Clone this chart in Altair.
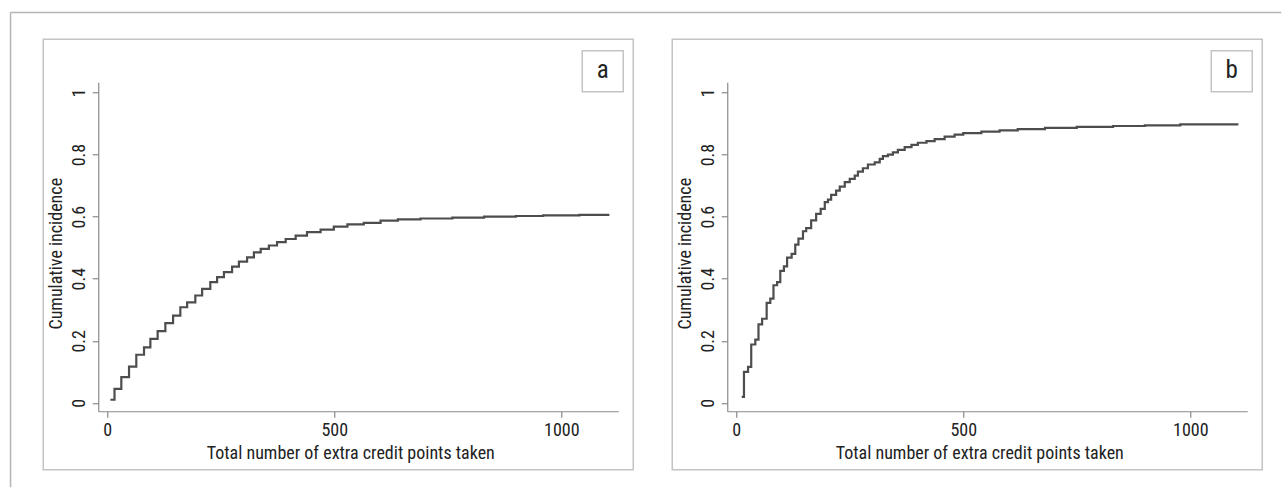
import altair as alt
import pandas as pd

# Panel a: cumulative incidence (step function)
a_x = [7, 16, 31, 48, 64, 81, 95, 111, 128, 145, 161, 176, 194, 209, 227, 242, 257, 275, 290, 308,
       323, 338, 356, 374, 393, 415, 440, 470, 499, 529, 565, 602, 640, 690, 760, 830, 900, 960, 1040, 1106]
a_y = [0.010, 0.045, 0.083, 0.117, 0.155, 0.179, 0.206, 0.231, 0.257, 0.281, 0.308, 0.324, 0.346, 0.367,
       0.389, 0.405, 0.421, 0.439, 0.455, 0.469, 0.485, 0.496, 0.507, 0.518, 0.528, 0.539, 0.550, 0.558,
       0.568, 0.575, 0.580, 0.587, 0.591, 0.594, 0.597, 0.600, 0.602, 0.604, 0.606, 0.606]

# Panel b
b_x = [12, 17, 26, 33, 42, 49, 57, 67, 75, 82, 90, 97, 105, 112, 122, 130, 137, 147, 154, 165,
       176, 186, 195, 202, 209, 220, 228, 239, 250, 261, 268, 279, 290, 305, 316, 323, 334, 345, 356, 371,
       386, 400, 419, 437, 459, 481, 500, 540, 580, 620, 680, 750, 830, 900, 978, 1106]
b_y = [0.019, 0.100, 0.116, 0.188, 0.204, 0.253, 0.271, 0.322, 0.336, 0.379, 0.389, 0.425, 0.440, 0.468,
       0.480, 0.510, 0.529, 0.553, 0.563, 0.588, 0.609, 0.625, 0.647, 0.655, 0.670, 0.684, 0.697, 0.711,
       0.722, 0.732, 0.745, 0.756, 0.768, 0.775, 0.786, 0.795, 0.800, 0.807, 0.815, 0.824, 0.831, 0.838,
       0.843, 0.850, 0.858, 0.864, 0.869, 0.874, 0.878, 0.882, 0.886, 0.889, 0.892, 0.894, 0.897, 0.897]

x_ticks = [0, 500, 1000]
y_ticks = [0, 0.2, 0.4, 0.6, 0.8, 1]
x_title = "Total number of extra credit points taken"
y_title = "Cumulative incidence"

FONT = ("'Liberation Sans Narrow', 'Roboto Condensed', 'Open Sans Condensed', 'Nimbus Sans Narrow', "
        "'Arial Narrow', 'DejaVu Sans Condensed', sans-serif")
W, H = 520, 329
BOX = "#c4c4c4"


def panel(xs, ys, letter, outer=False):
    df = pd.DataFrame({"x": xs, "y": ys})
    one = pd.DataFrame({"k": [0]})
    line = alt.Chart(df).mark_line(interpolate="step-after", color="#4d4d4d", strokeWidth=2.2).encode(
        x=alt.X("x:Q",
                scale=alt.Scale(domain=[-19.8, 1125.5], nice=False, zero=False),
                axis=alt.Axis(values=x_ticks, format="d", title=x_title,
                              labelPadding=4, titlePadding=5, titleX=252, titleAlign="center")),
        y=alt.Y("y:Q",
                scale=alt.Scale(domain=[-0.027, 1.033], nice=False, zero=False),
                axis=alt.Axis(values=y_ticks, format="~g", title=y_title, labelAngle=270,
                              labelPadding=4, titlePadding=5, titleY=171, titleAlign="center")),
    )
    box = alt.Chart(one).mark_rect(filled=False, stroke=BOX, strokeWidth=1.5).encode(
        x=alt.value(-55), x2=alt.value(535), y=alt.value(-43), y2=alt.value(387.5))
    lbox = alt.Chart(one).mark_rect(filled=False, stroke=BOX, strokeWidth=1.5).encode(
        x=alt.value(484), x2=alt.value(525), y=alt.value(-31.5), y2=alt.value(9.5))
    ltext = alt.Chart(one).mark_text(text=letter, font=FONT, fontSize=25, color="#222222",
                                     align="center", baseline="middle").encode(
        x=alt.value(504.5), y=alt.value(-12))
    layers = [box, lbox, ltext, line]
    if outer:
        top = alt.Chart(one).mark_rule(color="#b5b5b5", strokeWidth=1.5).encode(
            x=alt.value(-87.7), x2=alt.value(1183), y=alt.value(-69.7))
        left = alt.Chart(one).mark_rule(color="#b5b5b5", strokeWidth=1.5).encode(
            x=alt.value(-87.7), y=alt.value(-69.7), y2=alt.value(405))
        layers = [top, left] + layers
    return alt.layer(*layers).properties(width=W, height=H)


pa = panel(a_x, a_y, "a", outer=True)
pb = panel(b_x, b_y, "b")

chart = alt.hconcat(pa, pb, spacing=109, bounds="flush").properties(
    padding={"left": 9.25, "top": 11.25, "right": 0, "bottom": 0}
).configure_view(stroke=None).configure_axis(
    grid=False,
    labelFont=FONT, titleFont=FONT,
    labelFontSize=18, titleFontSize=18,
    labelColor="#222222", titleColor="#222222",
    titleFontWeight="normal",
    domainColor="#8a8a8a", tickColor="#8a8a8a",
    domainWidth=1.2, tickWidth=1.2, tickSize=6,
)

chart.save("out.html", embed_options={"renderer": "svg", "actions": False})
